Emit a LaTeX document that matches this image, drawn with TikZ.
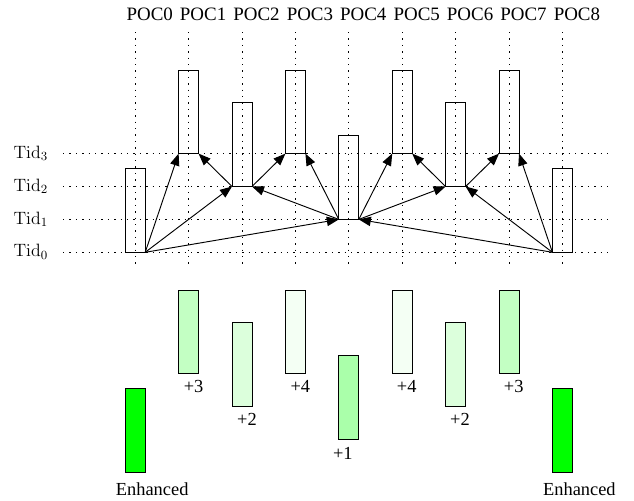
\RequirePackage{fix-cm}
\documentclass[tikz,border=0pt]{standalone}
\usepackage[no-math]{fontspec}
\setmainfont{Liberation Serif}
\usetikzlibrary{arrows.meta,calc}

\tikzset{
  grid line/.style={line width=0.7pt, dash pattern=on 1.1pt off 3.7pt},
  framebar/.style={draw, line width=0.75pt, anchor=south, inner sep=0pt, outer sep=0pt,
    minimum width=15pt, minimum height=62.7pt},
  ref/.style={line width=0.7pt, -{Triangle[length=9pt,width=7pt]}},
  poclabel/.style={anchor=base, font=\fontsize{14.2}{16}\selectfont, inner sep=0pt},
  tidlabel/.style={anchor=base west, font=\fontsize{13.4}{15}\selectfont, inner sep=0pt},
  gainlabel/.style={anchor=base, font=\fontsize{13.8}{16}\selectfont, inner sep=0pt},
}

\definecolor{enh}{RGB}{0,255,0}
\definecolor{gainone}{RGB}{170,255,170}
\definecolor{gaintwo}{RGB}{220,255,220}
\definecolor{gainthree}{RGB}{195,255,195}
\definecolor{gainfour}{RGB}{244,255,244}

\begin{document}
\begin{tikzpicture}[x=0.75pt,y=-0.75pt]
\useasboundingbox (0,0) rectangle (634,500);

% grid: one vertical line per picture, one horizontal line per temporal layer
\foreach \i in {0,...,8} {
  \pgfmathsetmacro\cx{135.2+53.4*\i}
  \draw[grid line] (\cx,32) -- (\cx,266);
  \pgfmathsetmacro\lx{\cx+14.5}
  \node[poclabel] (poc\i) at (\lx,20) {POC\i};
}
\foreach \j/\ry in {0/252.3,1/219.4,2/186.5,3/153.6} {
  \draw[grid line] (63,\ry) -- (609,\ry);
  \pgfmathsetmacro\by{\ry+4.6}
  \node[tidlabel] (tid\j) at (13.3,\by) {$\mathrm{Tid}_{\j}$};
}

% coded frames, each standing on its temporal layer
\node[framebar] (p0) at (135.2,252.3) {};
\node[framebar] (p1) at (188.6,153.6) {};
\node[framebar] (p2) at (242.0,186.5) {};
\node[framebar] (p3) at (295.4,153.6) {};
\node[framebar] (p4) at (348.8,219.4) {};
\node[framebar] (p5) at (402.2,153.6) {};
\node[framebar] (p6) at (455.6,186.5) {};
\node[framebar] (p7) at (509.0,153.6) {};
\node[framebar] (p8) at (562.4,252.3) {};

% prediction references
\draw[ref] (p0.south east) -- (p1.south west);
\draw[ref] (p0.south east) -- (p2.south west);
\draw[ref] (p0.south east) -- (p4.south west);
\draw[ref] (p2.south west) -- (p1.south east);
\draw[ref] (p2.south east) -- (p3.south west);
\draw[ref] (p4.south west) -- (p3.south east);
\draw[ref] (p4.south west) -- (p2.south east);
\draw[ref] (p4.south east) -- (p5.south west);
\draw[ref] (p4.south east) -- (p6.south west);
\draw[ref] (p6.south west) -- (p5.south east);
\draw[ref] (p6.south east) -- (p7.south west);
\draw[ref] (p8.south west) -- (p7.south east);
\draw[ref] (p8.south west) -- (p6.south east);
\draw[ref] (p8.south west) -- (p4.south east);

% enhancement levels
\node[framebar, fill=enh]        (b0) at (135.2,472.3) {};
\node[framebar, fill=gainthree]  (b1) at (188.6,373.6) {};
\node[framebar, fill=gaintwo]    (b2) at (242.0,406.5) {};
\node[framebar, fill=gainfour]   (b3) at (295.4,373.6) {};
\node[framebar, fill=gainone]    (b4) at (348.8,439.4) {};
\node[framebar, fill=gainfour]   (b5) at (402.2,373.6) {};
\node[framebar, fill=gaintwo]    (b6) at (455.6,406.5) {};
\node[framebar, fill=gainthree]  (b7) at (509.0,373.6) {};
\node[framebar, fill=enh]        (b8) at (562.4,472.3) {};

\node[gainlabel] (g0) at ($(b0.south)+(17,22.8)$) {Enhanced};
\node[gainlabel] (g1) at ($(b1.south)+(5,18.4)$) {+3};
\node[gainlabel] (g2) at ($(b2.south)+(5,18.6)$) {+2};
\node[gainlabel] (g3) at ($(b3.south)+(5,18.4)$) {+4};
\node[gainlabel] (g4) at ($(b4.south)+(-6,20.4)$) {+1};
\node[gainlabel] (g5) at ($(b5.south)+(4.5,18.4)$) {+4};
\node[gainlabel] (g6) at ($(b6.south)+(4.4,18.6)$) {+2};
\node[gainlabel] (g7) at ($(b7.south)+(4.7,18.4)$) {+3};
\node[gainlabel] (g8) at ($(b8.south)+(17,22.8)$) {Enhanced};
\end{tikzpicture}
\end{document}
